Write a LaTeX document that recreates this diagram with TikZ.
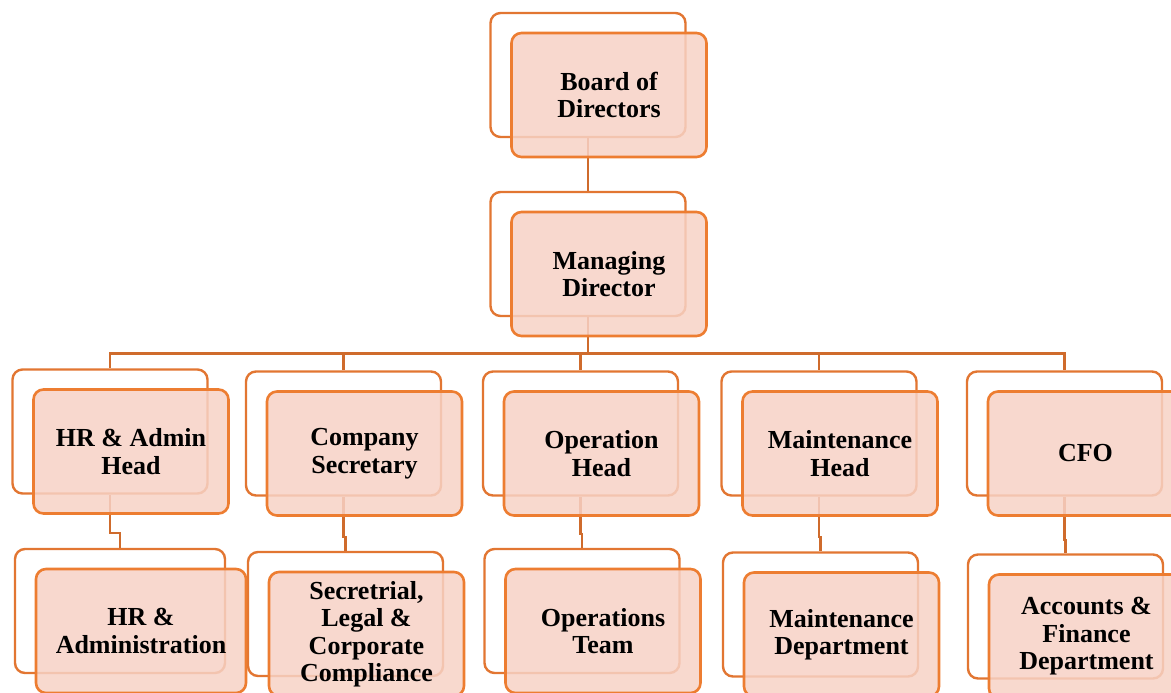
\documentclass[tikz,border=0pt]{standalone}
\usepackage{fontspec}
\setmainfont{Liberation Serif}
\usetikzlibrary{calc}
\definecolor{boxline}{HTML}{ED7D31}
\definecolor{backline}{HTML}{E27632}
\definecolor{conline}{HTML}{CF6B2C}
\definecolor{boxfill}{HTML}{F7D2C6}
\tikzset{
  backbox/.style={draw=backline, line width=2.4pt, rounded corners=10pt, fill=white,
    minimum width=195pt, minimum height=124pt, inner sep=0pt},
  frontbox/.style={draw=boxline, line width=2.6pt, rounded corners=10pt, fill=boxfill, fill opacity=0.85, text opacity=1,
    minimum width=195pt, minimum height=124pt, inner sep=0pt, align=center,
    font=\fontsize{26}{27.5}\selectfont\bfseries},
  conn/.style={draw=conline, line width=2.4pt}
}
\begin{document}
\begin{tikzpicture}[x=1pt,y=-1pt]
\path[use as bounding box, clip] (0,0) rectangle (1171,693);
% back boxes
\node[backbox] (bodB) at (588,75) {};
\node[backbox] (mdB) at (588,254) {};
\node[backbox] (hrB) at (110,431.5) {};
\node[backbox] (csB) at (343.5,433.5) {};
\node[backbox] (ohB) at (580.5,433.5) {};
\node[backbox] (mhB) at (819,433.5) {};
\node[backbox] (cfoB) at (1064.5,433.5) {};
\node[backbox, minimum width=210pt] (hrdB) at (120,611) {};
\node[backbox] (slcB) at (345.5,614) {};
\node[backbox] (otB) at (582,611) {};
\node[backbox] (mdeB) at (820.5,614.5) {};
\node[backbox] (afB) at (1065.5,616.5) {};
% connectors
\path[conn] (bodB.south) -- (mdB.north);
\foreach \c in {hrB,csB,ohB,mhB,cfoB}{
  \path[conn] (mdB.south) |- (588,353.5) -| (\c.north);
}
\path[conn] (hrB.south) |- ($(hrB.south)+(0,38)$) -| (hrdB.north);
\path[conn] (csB.south) |- ($(csB.south)+(0,40)$) -| (slcB.north);
\path[conn] (ohB.south) |- ($(ohB.south)+(0,37)$) -| (otB.north);
\path[conn] (mhB.south) |- ($(mhB.south)+(0,40)$) -| (mdeB.north);
\path[conn] (cfoB.south) |- ($(cfoB.south)+(0,43)$) -| (afB.north);
% front boxes
\node[frontbox] (bod) at ($(bodB)+(21,20)$) {Board of\\Directors};
\node[frontbox] (md) at ($(mdB)+(21,20)$) {Managing\\Director};
\node[frontbox] (hr) at ($(hrB)+(21,20)$) {HR \& Admin\\Head};
\node[frontbox] (cs) at ($(csB)+(21,20)$) {Company\\Secretary};
\node[frontbox] (oh) at ($(ohB)+(21,20)$) {Operation\\Head};
\node[frontbox] (mh) at ($(mhB)+(21,20)$) {Maintenance\\Head};
\node[frontbox] (cfo) at ($(cfoB)+(21,20)$) {CFO};
\node[frontbox, minimum width=210pt] (hrd) at ($(hrdB)+(21,20)$) {HR \&\\Administration};
\node[frontbox] (slc) at ($(slcB)+(21,20)$) {Secretrial,\\Legal \&\\Corporate\\Compliance};
\node[frontbox] (ot) at ($(otB)+(21,20)$) {Operations\\Team};
\node[frontbox] (mde) at ($(mdeB)+(21,20)$) {Maintenance\\Department};
\node[frontbox] (af) at ($(afB)+(21,20)$) {Accounts \&\\Finance\\Department};
\end{tikzpicture}
\end{document}
